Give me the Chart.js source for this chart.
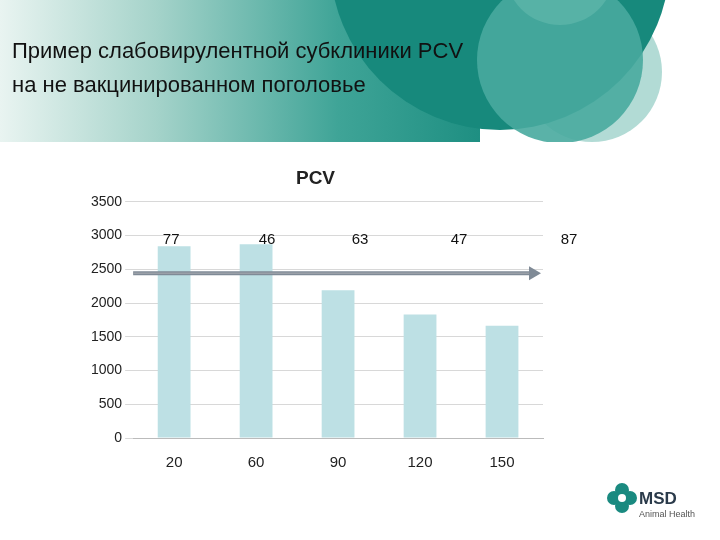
<!DOCTYPE html>
<html><head><meta charset="utf-8">
<script src="https://cdn.jsdelivr.net/npm/chart.js@4"></script>
<style>html,body{margin:0;padding:0;background:#fff}#c{display:block}</style>
</head><body>
<canvas id="c" width="720" height="540"></canvas>
<script>
const categories = ['20','60','90','120','150'];
const pcvValues = [2840, 2870, 2190, 1830, 1665];
const topLabels = ['77','46','63','47','87'];
const arrowLevel = 2440;
const yTicks = [0,500,1000,1500,2000,2500,3000,3500];

const bgPlugin = {
  id:'bg',
  beforeDraw(chart){
    const ctx = chart.ctx;
    ctx.save();
    ctx.fillStyle='#fff';ctx.fillRect(0,0,720,540);
    ctx.beginPath();ctx.rect(0,0,720,142);ctx.clip();
    ctx.fillStyle='rgba(170,215,208,0.9)';
    ctx.beginPath();ctx.arc(592,72,70,0,Math.PI*2);ctx.fill();
    const g=ctx.createLinearGradient(0,0,520,0);
    g.addColorStop(0,'#e9f4f1');g.addColorStop(0.3,'#a5d3ca');g.addColorStop(0.65,'#3fa497');g.addColorStop(1,'#15897c');
    ctx.fillStyle=g;
    ctx.beginPath();ctx.moveTo(0,0);ctx.lineTo(480,0);ctx.lineTo(480,142);ctx.lineTo(0,142);ctx.fill();
    ctx.fillStyle='#17897c';
    ctx.beginPath();ctx.arc(500,-40,170,0,Math.PI*2);ctx.fill();
    ctx.fillStyle='rgba(72,170,158,0.9)';
    ctx.beginPath();ctx.arc(560,60,83,0,Math.PI*2);ctx.fill();
    ctx.fillStyle='rgba(90,180,168,0.85)';
    ctx.beginPath();ctx.arc(560,-30,55,0,Math.PI*2);ctx.fill();
    ctx.restore();
    ctx.save();
    ctx.fillStyle='#111';ctx.font='22px "Liberation Sans", Arial';ctx.textBaseline='alphabetic';
    ctx.fillText('Пример слабовирулентной субклиники PCV',12,58);
    ctx.fillText('на не вакцинированном поголовье',12,92);
    ctx.fillStyle='#1a8a80';
    const lx=622,ly=498;
    ctx.beginPath();ctx.arc(lx-8,ly,7,0,Math.PI*2);ctx.arc(lx+8,ly,7,0,Math.PI*2);ctx.fill();
    ctx.beginPath();ctx.arc(lx,ly-8,7,0,Math.PI*2);ctx.fill();
    ctx.beginPath();ctx.arc(lx,ly+8,7,0,Math.PI*2);ctx.fill();
    ctx.fillStyle='#fff';ctx.beginPath();ctx.arc(lx,ly,4,0,Math.PI*2);ctx.fill();
    ctx.fillStyle='#2a3a4a';ctx.font='bold 17px "Liberation Sans", Arial';
    ctx.fillText('MSD',639,504);
    ctx.font='9px "Liberation Sans", Arial';ctx.fillStyle='#555';
    ctx.fillText('Animal Health',639,517);
    ctx.restore();
  },
  afterDatasetsDraw(chart){
    const ctx=chart.ctx, x=chart.scales.x, y=chart.scales.y;
    ctx.save();
    ctx.fillStyle='#111';ctx.font='15px "Liberation Sans", Arial';ctx.textAlign='center';
    const offs=[-3,11,22,39,67];
    topLabels.forEach((t,i)=>{ctx.fillText(t, x.getPixelForValue(i)+offs[i], y.getPixelForValue(2970)+6);});
    const ay=y.getPixelForValue(arrowLevel), x0=chart.chartArea.left, x1=chart.chartArea.right-4;
    ctx.strokeStyle='#7f8a96';ctx.lineWidth=4;
    ctx.beginPath();ctx.moveTo(x0,ay);ctx.lineTo(x1-8,ay);ctx.stroke();
    ctx.strokeStyle='#9aa0a8';ctx.lineWidth=1.5;
    ctx.beginPath();ctx.moveTo(x0,ay);ctx.lineTo(x1-8,ay);ctx.stroke();
    ctx.fillStyle='#7f8a96';
    ctx.beginPath();ctx.moveTo(x1-10,ay-7);ctx.lineTo(x1+2,ay);ctx.lineTo(x1-10,ay+7);ctx.fill();
    ctx.restore();
  }
};

new Chart(document.getElementById('c'),{
  type:'bar',
  data:{labels:categories,datasets:[{data:pcvValues,backgroundColor:'#bde0e4',barPercentage:0.4,categoryPercentage:1}]},
  options:{
    responsive:false,animation:false,
    layout:{padding:{left:88,right:177,top:167,bottom:60}},
    plugins:{legend:{display:false},tooltip:{enabled:false},
      title:{display:true,text:'PCV',color:'#222',font:{family:'"Liberation Sans", Arial',size:19,weight:'bold'},padding:{top:0,bottom:12}}},
    scales:{
      x:{grid:{display:false},border:{color:'#bbb'},ticks:{color:'#222',padding:8,font:{family:'"Liberation Sans", Arial',size:15}}},
      y:{min:0,max:3500,afterBuildTicks(s){s.ticks=yTicks.map(v=>({value:v}));},
        grid:{color:'#d8d8d8'},border:{display:false},
        ticks:{color:'#222',callback:v=>String(v),font:{family:'"Liberation Sans", Arial',size:14}}}
    }
  },
  plugins:[bgPlugin]
});
</script>
</body></html>
